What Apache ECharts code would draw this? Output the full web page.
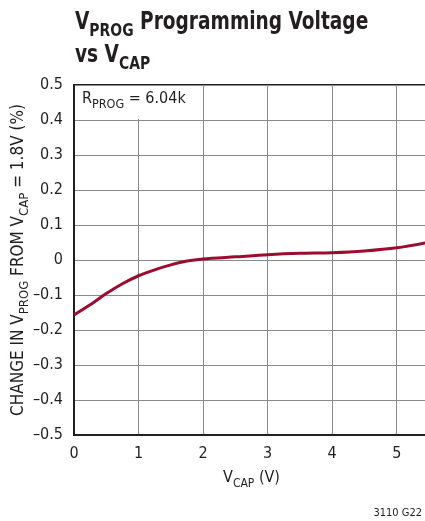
<!DOCTYPE html>
<html>
<head>
<meta charset="utf-8">
<script src="https://cdn.jsdelivr.net/npm/echarts@6/dist/echarts.min.js"></script>
<style>
html,body{margin:0;padding:0;background:#fff;}
#chart{width:425px;height:521px;}
</style>
</head>
<body>
<div id="chart"></div>
<script>
// Data
const xVals = [0, 0.25, 0.5, 0.75, 1, 1.25, 1.5, 1.75, 2, 2.5, 3, 3.5, 4, 4.5, 5, 5.5];
const yVals = [-0.157, -0.128, -0.096, -0.068, -0.045, -0.028, -0.014, -0.003, 0.003, 0.009, 0.015, 0.019, 0.021, 0.026, 0.035, 0.051];
const xTickLabels = ['0', '1', '2', '3', '4', '5'];
const yTickLabels = ['–0.5', '–0.4', '–0.3', '–0.2', '–0.1', '0', '0.1', '0.2', '0.3', '0.4', '0.5'];

const FONT = '"Liberation Sans Narrow", "DejaVu Sans Condensed", "Arial Narrow", sans-serif';
const seriesData = xVals.map((x, i) => [x, yVals[i]]);

const chart = echarts.init(document.getElementById('chart'), null, {renderer: 'canvas'});
chart.setOption({
  animation: false,
  backgroundColor: '#fff',
  grid: {left: 74, top: 85, right: -4, bottom: 86, containLabel: false, outerBoundsMode: 'none',
         show: true, borderColor: '#231f20', borderWidth: 2, backgroundColor: 'transparent'},
  xAxis: {
    type: 'value', min: 0, max: 5.5, interval: 1,
    axisLine: {show: true, onZero: false, lineStyle: {color: '#231f20', width: 2}},
    axisTick: {show: false},
    splitLine: {show: true, lineStyle: {color: '#8a8a8a', width: 1}},
    axisLabel: {
      margin: 11, color: '#231f20', fontFamily: FONT, fontSize: 16,
      formatter: v => { const i = Math.round(v); return Math.abs(v - i) < 1e-6 && i < xTickLabels.length ? xTickLabels[i] : ''; }
    },
    name: '{m|V}{s|CAP}{m| (V)}',
    nameLocation: 'middle', nameGap: 35, nameMoveOverlap: false,
    nameTextStyle: {
      color: '#231f20', fontFamily: FONT,
      rich: {
        m: {fontSize: 16, fontFamily: FONT, color: '#231f20', verticalAlign: 'bottom', padding: [0, 0, 4, 0]},
        s: {fontSize: 12, fontFamily: FONT, color: '#231f20', verticalAlign: 'bottom'}
      }
    }
  },
  yAxis: {
    type: 'value', min: -0.5, max: 0.5, interval: 0.1,
    axisLine: {show: true, onZero: false, lineStyle: {color: '#231f20', width: 2}},
    axisTick: {show: false},
    splitLine: {show: true, lineStyle: {color: '#8a8a8a', width: 1}},
    axisLabel: {
      margin: 11, color: '#231f20', fontFamily: FONT, fontSize: 16,
      formatter: v => { const i = Math.round((v + 0.5) * 10); return yTickLabels[i] || ''; }
    },
    name: '{m|CHANGE IN V}{s|PROG}{m| FROM V}{s|CAP}{m| = 1.8V (%)}',
    nameLocation: 'middle', nameGap: 43, nameRotate: 90, nameMoveOverlap: false,
    nameTextStyle: {
      color: '#231f20', fontFamily: FONT,
      rich: {
        m: {fontSize: 17, fontFamily: FONT, color: '#231f20', verticalAlign: 'bottom', padding: [0, 0, 4, 0]},
        s: {fontSize: 13, fontFamily: FONT, color: '#231f20', verticalAlign: 'bottom'}
      }
    }
  },
  series: [{
    type: 'line', data: seriesData, smooth: 0.3, showSymbol: false,
    lineStyle: {color: '#9b0c2f', width: 3}, clip: true, z: 3
  }],
  graphic: [
    {
      type: 'text', x: 75, y: 11, scaleX: 0.86, z: 10,
      style: {
        text: '{b|V}{s|PROG}{b| Programming Voltage}',
        rich: {
          b: {fontSize: 24, fontWeight: 'bold', fontFamily: FONT, fill: '#231f20', verticalAlign: 'bottom', padding: [0, 0, 5, 0]},
          s: {fontSize: 18, fontWeight: 'bold', fontFamily: FONT, fill: '#231f20', verticalAlign: 'bottom'}
        }
      }
    },
    {
      type: 'text', x: 75, y: 44, scaleX: 0.86, z: 10,
      style: {
        text: '{b|vs V}{s|CAP}',
        rich: {
          b: {fontSize: 24, fontWeight: 'bold', fontFamily: FONT, fill: '#231f20', verticalAlign: 'bottom', padding: [0, 0, 5, 0]},
          s: {fontSize: 18, fontWeight: 'bold', fontFamily: FONT, fill: '#231f20', verticalAlign: 'bottom'}
        }
      }
    },
    {
      type: 'rect', shape: {x: 76, y: 86, width: 126, height: 33}, z: 5,
      style: {fill: '#fff'}
    },
    {
      type: 'text', x: 82, y: 91, z: 10,
      style: {
        text: '{m|R}{s|PROG}{m| = 6.04k}',
        rich: {
          m: {fontSize: 16, fontFamily: FONT, fill: '#231f20', verticalAlign: 'bottom', padding: [0, 0, 4, 0]},
          s: {fontSize: 12.5, fontFamily: FONT, fill: '#231f20', verticalAlign: 'bottom'}
        }
      }
    },
    {
      type: 'text', right: 3, top: 508, z: 10,
      style: {text: '3110 G22', fontSize: 11, fontFamily: FONT, fill: '#231f20'}
    }
  ]
});
</script>
</body>
</html>
